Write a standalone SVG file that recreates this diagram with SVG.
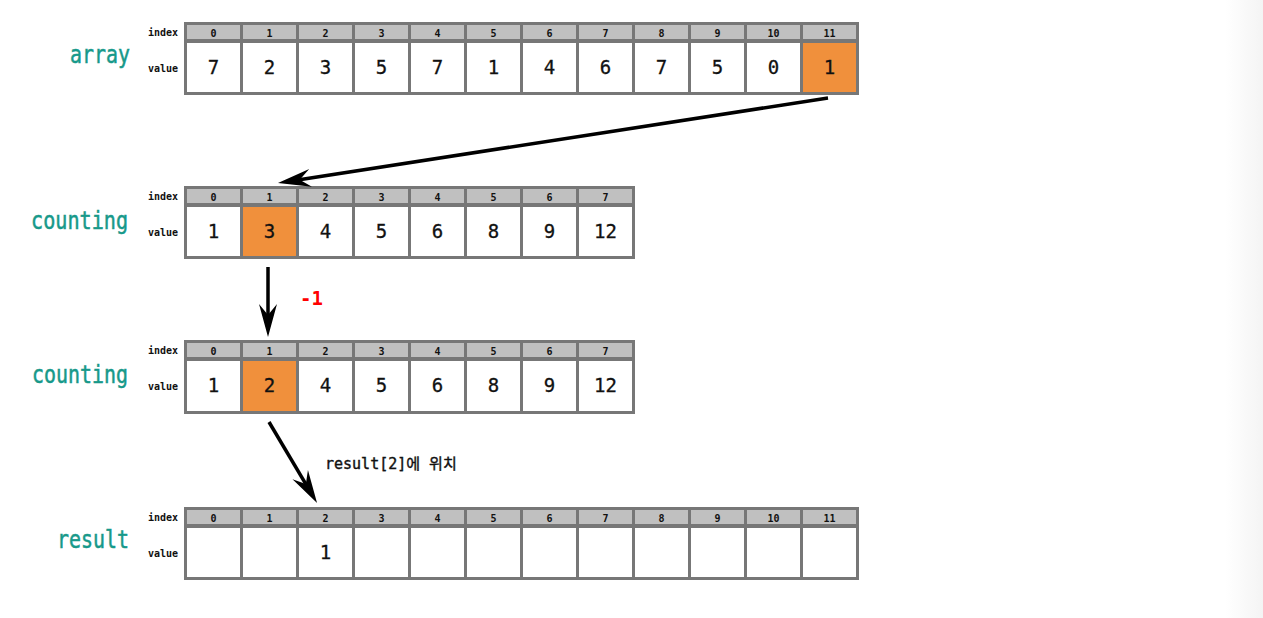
<svg xmlns="http://www.w3.org/2000/svg" width="1263" height="618" viewBox="0 0 1263 618">
<style>
.bg{fill:#777}
.h{fill:#c0c0c0}
.v{fill:#fff}
.o{fill:#f0903c}
.ht{font-family:"DejaVu Sans Mono",monospace;font-size:10px;font-weight:bold;fill:#111;text-anchor:middle}
.vt{font-family:"DejaVu Sans Mono",monospace;font-size:19px;fill:#111;stroke:#111;stroke-width:0.3;text-anchor:middle}
.lb{font-family:"DejaVu Sans Mono",monospace;font-size:10px;font-weight:bold;fill:#111;text-anchor:end}
.name{font-family:"DejaVu Sans Mono",monospace;font-size:24px;fill:#17998a;stroke:#17998a;stroke-width:0.5;text-anchor:end}
.arr{stroke:#000;stroke-width:3.5;fill:none;marker-end:url(#ah)}
</style>
<defs>
<marker id="ah" markerUnits="userSpaceOnUse" markerWidth="40" markerHeight="24" viewBox="0 -12 40 24" refX="18" refY="0" orient="auto">
<path d="M0,-9 L33,0 L0,9 L11,0 Z" fill="#000"/>
</marker>
<linearGradient id="edge" x1="0" y1="0" x2="1" y2="0">
<stop offset="0" stop-color="#fff"/>
<stop offset="1" stop-color="#f4f4f4"/>
</linearGradient>
</defs>
<rect x="0" y="0" width="1263" height="618" fill="#fff"/>
<rect x="1225" y="0" width="38" height="618" fill="url(#edge)"/>

<g id="array">
<text class="name" x="130" y="63" textLength="60" lengthAdjust="spacingAndGlyphs">array</text>
<text class="lb" x="178" y="36">index</text>
<text class="lb" x="178" y="72">value</text>
<rect class="bg" x="184" y="22" width="675" height="73"/>
<rect class="h" x="187" y="25" width="53" height="14"/><rect class="h" x="243" y="25" width="53" height="14"/><rect class="h" x="299" y="25" width="53" height="14"/><rect class="h" x="355" y="25" width="53" height="14"/><rect class="h" x="411" y="25" width="53" height="14"/><rect class="h" x="467" y="25" width="53" height="14"/><rect class="h" x="523" y="25" width="53" height="14"/><rect class="h" x="579" y="25" width="53" height="14"/><rect class="h" x="635" y="25" width="53" height="14"/><rect class="h" x="691" y="25" width="53" height="14"/><rect class="h" x="747" y="25" width="53" height="14"/><rect class="h" x="803" y="25" width="53" height="14"/>
<rect class="v" x="187" y="43" width="53" height="49"/><rect class="v" x="243" y="43" width="53" height="49"/><rect class="v" x="299" y="43" width="53" height="49"/><rect class="v" x="355" y="43" width="53" height="49"/><rect class="v" x="411" y="43" width="53" height="49"/><rect class="v" x="467" y="43" width="53" height="49"/><rect class="v" x="523" y="43" width="53" height="49"/><rect class="v" x="579" y="43" width="53" height="49"/><rect class="v" x="635" y="43" width="53" height="49"/><rect class="v" x="691" y="43" width="53" height="49"/><rect class="v" x="747" y="43" width="53" height="49"/><rect class="o" x="803" y="43" width="53" height="49"/>
<text class="ht" x="213.5" y="37">0</text><text class="ht" x="269.5" y="37">1</text><text class="ht" x="325.5" y="37">2</text><text class="ht" x="381.5" y="37">3</text><text class="ht" x="437.5" y="37">4</text><text class="ht" x="493.5" y="37">5</text><text class="ht" x="549.5" y="37">6</text><text class="ht" x="605.5" y="37">7</text><text class="ht" x="661.5" y="37">8</text><text class="ht" x="717.5" y="37">9</text><text class="ht" x="773.5" y="37">10</text><text class="ht" x="829.5" y="37">11</text>
<text class="vt" x="213.5" y="74">7</text><text class="vt" x="269.5" y="74">2</text><text class="vt" x="325.5" y="74">3</text><text class="vt" x="381.5" y="74">5</text><text class="vt" x="437.5" y="74">7</text><text class="vt" x="493.5" y="74">1</text><text class="vt" x="549.5" y="74">4</text><text class="vt" x="605.5" y="74">6</text><text class="vt" x="661.5" y="74">7</text><text class="vt" x="717.5" y="74">5</text><text class="vt" x="773.5" y="74">0</text><text class="vt" x="829.5" y="74">1</text>
</g>

<g id="counting">
<text class="name" x="128" y="229" textLength="97" lengthAdjust="spacingAndGlyphs">counting</text>
<text class="lb" x="178" y="200">index</text>
<text class="lb" x="178" y="236">value</text>
<rect class="bg" x="184" y="186" width="451" height="73"/>
<rect class="h" x="187" y="189" width="53" height="14"/><rect class="h" x="243" y="189" width="53" height="14"/><rect class="h" x="299" y="189" width="53" height="14"/><rect class="h" x="355" y="189" width="53" height="14"/><rect class="h" x="411" y="189" width="53" height="14"/><rect class="h" x="467" y="189" width="53" height="14"/><rect class="h" x="523" y="189" width="53" height="14"/><rect class="h" x="579" y="189" width="53" height="14"/>
<rect class="v" x="187" y="207" width="53" height="49"/><rect class="o" x="243" y="207" width="53" height="49"/><rect class="v" x="299" y="207" width="53" height="49"/><rect class="v" x="355" y="207" width="53" height="49"/><rect class="v" x="411" y="207" width="53" height="49"/><rect class="v" x="467" y="207" width="53" height="49"/><rect class="v" x="523" y="207" width="53" height="49"/><rect class="v" x="579" y="207" width="53" height="49"/>
<text class="ht" x="213.5" y="201">0</text><text class="ht" x="269.5" y="201">1</text><text class="ht" x="325.5" y="201">2</text><text class="ht" x="381.5" y="201">3</text><text class="ht" x="437.5" y="201">4</text><text class="ht" x="493.5" y="201">5</text><text class="ht" x="549.5" y="201">6</text><text class="ht" x="605.5" y="201">7</text>
<text class="vt" x="213.5" y="238">1</text><text class="vt" x="269.5" y="238">3</text><text class="vt" x="325.5" y="238">4</text><text class="vt" x="381.5" y="238">5</text><text class="vt" x="437.5" y="238">6</text><text class="vt" x="493.5" y="238">8</text><text class="vt" x="549.5" y="238">9</text><text class="vt" x="605.5" y="238">12</text>
</g>

<g id="counting2">
<text class="name" x="128" y="383" textLength="96" lengthAdjust="spacingAndGlyphs">counting</text>
<text class="lb" x="178" y="354">index</text>
<text class="lb" x="178" y="390">value</text>
<rect class="bg" x="184" y="340" width="451" height="74"/>
<rect class="h" x="187" y="343" width="53" height="14"/><rect class="h" x="243" y="343" width="53" height="14"/><rect class="h" x="299" y="343" width="53" height="14"/><rect class="h" x="355" y="343" width="53" height="14"/><rect class="h" x="411" y="343" width="53" height="14"/><rect class="h" x="467" y="343" width="53" height="14"/><rect class="h" x="523" y="343" width="53" height="14"/><rect class="h" x="579" y="343" width="53" height="14"/>
<rect class="v" x="187" y="361" width="53" height="50"/><rect class="o" x="243" y="361" width="53" height="50"/><rect class="v" x="299" y="361" width="53" height="50"/><rect class="v" x="355" y="361" width="53" height="50"/><rect class="v" x="411" y="361" width="53" height="50"/><rect class="v" x="467" y="361" width="53" height="50"/><rect class="v" x="523" y="361" width="53" height="50"/><rect class="v" x="579" y="361" width="53" height="50"/>
<text class="ht" x="213.5" y="355">0</text><text class="ht" x="269.5" y="355">1</text><text class="ht" x="325.5" y="355">2</text><text class="ht" x="381.5" y="355">3</text><text class="ht" x="437.5" y="355">4</text><text class="ht" x="493.5" y="355">5</text><text class="ht" x="549.5" y="355">6</text><text class="ht" x="605.5" y="355">7</text>
<text class="vt" x="213.5" y="392">1</text><text class="vt" x="269.5" y="392">2</text><text class="vt" x="325.5" y="392">4</text><text class="vt" x="381.5" y="392">5</text><text class="vt" x="437.5" y="392">6</text><text class="vt" x="493.5" y="392">8</text><text class="vt" x="549.5" y="392">9</text><text class="vt" x="605.5" y="392">12</text>
</g>

<g id="result">
<text class="name" x="129" y="548" textLength="72" lengthAdjust="spacingAndGlyphs">result</text>
<text class="lb" x="178" y="521">index</text>
<text class="lb" x="178" y="557">value</text>
<rect class="bg" x="184" y="507" width="675" height="73"/>
<rect class="h" x="187" y="510" width="53" height="14"/><rect class="h" x="243" y="510" width="53" height="14"/><rect class="h" x="299" y="510" width="53" height="14"/><rect class="h" x="355" y="510" width="53" height="14"/><rect class="h" x="411" y="510" width="53" height="14"/><rect class="h" x="467" y="510" width="53" height="14"/><rect class="h" x="523" y="510" width="53" height="14"/><rect class="h" x="579" y="510" width="53" height="14"/><rect class="h" x="635" y="510" width="53" height="14"/><rect class="h" x="691" y="510" width="53" height="14"/><rect class="h" x="747" y="510" width="53" height="14"/><rect class="h" x="803" y="510" width="53" height="14"/>
<rect class="v" x="187" y="528" width="53" height="49"/><rect class="v" x="243" y="528" width="53" height="49"/><rect class="v" x="299" y="528" width="53" height="49"/><rect class="v" x="355" y="528" width="53" height="49"/><rect class="v" x="411" y="528" width="53" height="49"/><rect class="v" x="467" y="528" width="53" height="49"/><rect class="v" x="523" y="528" width="53" height="49"/><rect class="v" x="579" y="528" width="53" height="49"/><rect class="v" x="635" y="528" width="53" height="49"/><rect class="v" x="691" y="528" width="53" height="49"/><rect class="v" x="747" y="528" width="53" height="49"/><rect class="v" x="803" y="528" width="53" height="49"/>
<text class="ht" x="213.5" y="522">0</text><text class="ht" x="269.5" y="522">1</text><text class="ht" x="325.5" y="522">2</text><text class="ht" x="381.5" y="522">3</text><text class="ht" x="437.5" y="522">4</text><text class="ht" x="493.5" y="522">5</text><text class="ht" x="549.5" y="522">6</text><text class="ht" x="605.5" y="522">7</text><text class="ht" x="661.5" y="522">8</text><text class="ht" x="717.5" y="522">9</text><text class="ht" x="773.5" y="522">10</text><text class="ht" x="829.5" y="522">11</text>
<text class="vt" x="325.5" y="559">1</text>
</g>

<g id="connectors">
<line class="arr" x1="828" y1="98" x2="292.8" y2="180.7"/>
<line class="arr" x1="268" y1="267" x2="268" y2="322"/>
<line class="arr" x1="269" y1="422" x2="309.4" y2="490.1"/>
<text x="300" y="305" font-family="DejaVu Sans Mono, monospace" font-size="19" font-weight="bold" fill="#f00">-1</text>
<text x="325" y="469" font-family="DejaVu Sans Mono, 'Noto Sans CJK KR', monospace" font-size="15" fill="#111" stroke="#111" stroke-width="0.4">result[2]에 위치</text>
</g>
</svg>
